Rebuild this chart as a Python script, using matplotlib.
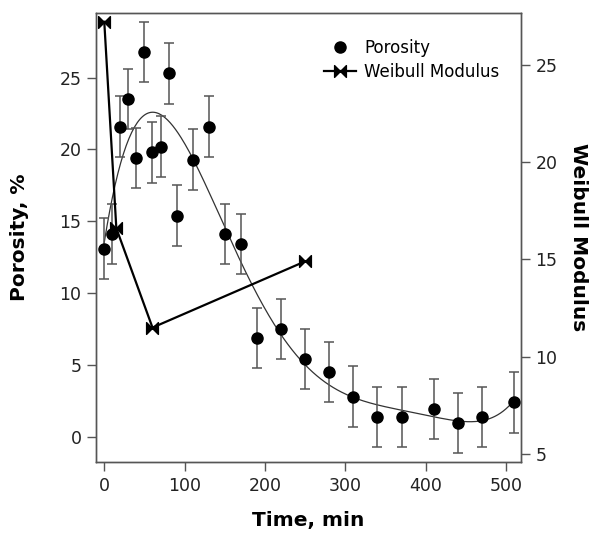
import numpy as np
import matplotlib
matplotlib.use("Agg")
import matplotlib.pyplot as plt
from matplotlib.path import Path

# porosity measurements (time in min, porosity in %)
time_por = [0, 10, 20, 30, 40, 50, 60, 70, 80, 90, 110, 130, 150, 170,
            190, 220, 250, 280, 310, 340, 370, 410, 440, 470, 510]
porosity = [13.1, 14.1, 21.6, 23.5, 19.4, 26.8, 19.8, 20.2, 25.3, 15.4,
            19.3, 21.6, 14.1, 13.4, 6.9, 7.5, 5.4, 4.5, 2.8, 1.4,
            1.4, 1.95, 0.95, 1.4, 2.4]
por_err = 2.1

# weibull modulus
time_wb = [0, 15, 60, 250]
weibull = [27.2, 16.6, 11.5, 14.9]

# bowtie marker
bowtie = Path([(-1, -1), (0, 0), (-1, 1), (-1, -1),
               (1, -1), (0, 0), (1, 1), (1, -1)],
              [Path.MOVETO, Path.LINETO, Path.LINETO, Path.CLOSEPOLY,
               Path.MOVETO, Path.LINETO, Path.LINETO, Path.CLOSEPOLY])

fig = plt.figure(figsize=(5.97, 5.34), dpi=100)
ax = fig.add_axes([96 / 597, 1 - 462 / 534, (521 - 96) / 597, (462 - 13) / 534])
ax2 = ax.twinx()

spine_col = '#555555'
err_col = '#555555'

# smooth trend through porosity data
coef = np.polyfit(time_por, porosity, 5)
tt = np.linspace(0, 510, 300)
ax.plot(tt, np.polyval(coef, tt), color='#333333', lw=0.9, zorder=2)

ax.errorbar(time_por, porosity, yerr=por_err, fmt='none',
            ecolor=err_col, elinewidth=1.1, capsize=3.5, capthick=1.1,
            zorder=3)
ax.plot(time_por, porosity, 'o', color='black', ms=8, zorder=4,
        label='Porosity')

ax2.plot(time_wb, weibull, color='black', lw=1.6, marker=bowtie, ms=8.5,
         label='Weibull Modulus', zorder=4)

ax.set_xlim(-10.3, 518.6)
ax.set_ylim(-1.75, 29.5)
ax2.set_ylim(4.6, 27.65)

ax.set_xticks([0, 100, 200, 300, 400, 500])
ax.set_yticks([0, 5, 10, 15, 20, 25])
ax2.set_yticks([5, 10, 15, 20, 25])

for a in (ax, ax2):
    for s in a.spines.values():
        s.set_color(spine_col)
        s.set_linewidth(1.0)
    a.tick_params(direction='out', length=6.5, width=1.0, color=spine_col,
                  labelsize=12.5, labelcolor='#222222', pad=4)

ax.set_xlabel('Time, min', fontsize=14.5, fontweight='bold', labelpad=12)
ax.set_ylabel('Porosity, %', fontsize=14.5, fontweight='bold', labelpad=22)
ax2.set_ylabel('Weibull Modulus', fontsize=14.5, fontweight='bold',
               rotation=270, labelpad=22)

h1, l1 = ax.get_legend_handles_labels()
h2, l2 = ax2.get_legend_handles_labels()
ax2.legend(h1 + h2, l1 + l2, loc='upper right', bbox_to_anchor=(0.985, 0.975),
           frameon=False, fontsize=12, handlelength=1.9, handletextpad=0.5,
           labelspacing=0.35)

fig.savefig('out.png', dpi=100)
